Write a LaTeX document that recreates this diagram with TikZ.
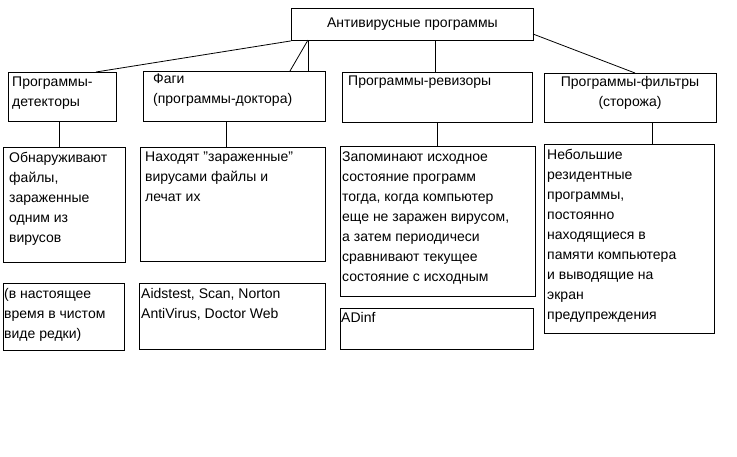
\documentclass[tikz,border=0pt]{standalone}
\usepackage{fontspec}
\setmainfont{Liberation Sans}
\begin{document}
\begin{tikzpicture}[x=1pt,y=-1pt,
  box/.style={draw,line width=0.9pt,inner sep=0pt,anchor=north west},
  txt/.style={font=\fontsize{14}{20}\selectfont,align=left,anchor=north west,inner sep=0pt},
  ctxt/.style={font=\fontsize{14}{20}\selectfont,align=center,inner sep=0pt},
  con/.style={line width=0.8pt}]
\useasboundingbox (0,0) rectangle (737,456);
\newcommand\bx[5]{\node[box,minimum width={#4-#2},minimum height={#5-#3}] (#1) at (#2,#3) {};}
\bx{top}{291}{8}{533}{40}
\bx{a}{8}{72}{116}{121}
\bx{b}{143}{71}{325}{121}
\bx{c}{342}{72}{532}{122}
\bx{d}{544}{73}{716}{122}
\bx{a2}{3}{147}{125}{262}
\bx{b2}{140}{147}{325}{261}
\bx{c2}{340}{146}{535}{296}
\bx{d2}{544}{144}{714}{333}
\bx{a3}{3}{283}{124}{350}
\bx{b3}{139}{283}{325}{349}
\bx{c3}{340}{308}{533}{349}
\node[ctxt] (tt) at (top.center) {Антивирусные программы};
\node[txt] (at) at (12,77) {Программы-\\детекторы};
\node[txt] (bt) at (153,74) {Фаги\\(программы-доктора)};
\node[txt] (ct) at (348,76) {Программы-ревизоры};
\node[ctxt,anchor=north] (dt) at (630,76) {Программы-фильтры\\(сторожа)};
\node[txt] (a2t) at (9,152) {Обнаруживают\\файлы,\\зараженные\\одним из\\вирусов};
\node[txt] (b2t) at (145,152) {Находят "зараженные"\\вирусами файлы и\\лечат их};
\node[txt] (c2t) at (342,152) {Запоминают исходное\\состояние программ\\тогда, когда компьютер\\еще не заражен вирусом,\\а затем периодичеси\\сравнивают текущее\\состояние с исходным};
\node[txt] (d2t) at (547,149) {Небольшие\\резидентные\\программы,\\постоянно\\находящиеся в\\памяти компьютера\\и выводящие на\\экран\\предупреждения};
\node[txt] (a3t) at (4,288) {(в настоящее\\время в чистом\\виде редки)};
\node[txt] (b3t) at (141,288) {Aidstest, Scan, Norton\\AntiVirus, Doctor Web};
\node[txt] (c3t) at (341,312) {ADinf};
\draw[con] (top.south west) -- (a.north -| 96,0);
\draw[con] (top.south west) ++(17,0) coordinate (p2) -- (p2 |- b.north) ;
\draw[con] (308,40) coordinate (q1) -- (290,71) coordinate (q2);
\draw[con] (435,40) coordinate (r1) -- (r1 |- c.north);
\draw[con] (533,34) coordinate (s1) -- (635,73) coordinate (s2);
\draw[con] (a.south -| 59,0) -- (a2.north -| 59,0);
\draw[con] (b.south -| 226,0) -- (b2.north -| 226,0);
\draw[con] (c.south -| 437,0) -- (c2.north -| 437,0);
\draw[con] (d.south -| 652,0) -- (d2.north -| 652,0);
\end{tikzpicture}
\end{document}
